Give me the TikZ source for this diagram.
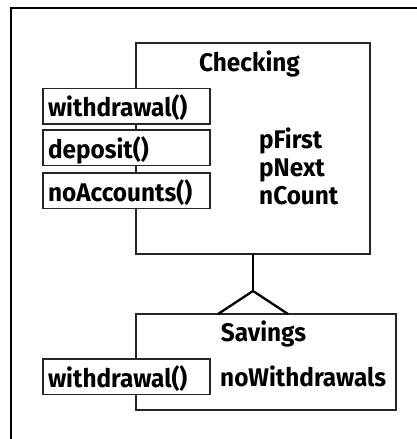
\documentclass[tikz,border=0pt]{standalone}
\usepackage{fontspec}
\newfontfamily\umlfont[FakeStretch=0.955]{Fira Sans}
\begin{document}
\begin{tikzpicture}[x=1pt,y=-1pt,
  frameline/.style={line width=2pt, black},
  classbox/.style={draw=black!85, line width=1.4pt, fill=white, inner sep=0pt, outer sep=0pt, anchor=north west},
  methodbox/.style={draw=black!85, line width=1.4pt, fill=white, anchor=north west, outer sep=0pt,
    inner xsep=5pt, inner ysep=0pt, text width=157pt, align=left,
    text height=28.3pt, text depth=7.2pt, minimum height=35.5pt,
    font=\umlfont\bfseries\fontsize{25.5}{28}\selectfont},
  lbl/.style={inner sep=0pt, font=\umlfont\bfseries\fontsize{25.5}{28}\selectfont},
  inherit/.style={line width=2.3pt, black}]
\useasboundingbox (0,0) rectangle (417,439);

% surrounding frame (open at right and bottom)
\draw[frameline] (11,439) |- (417,8);

% class Checking
\node[classbox, minimum width=234pt, minimum height=211pt] (checking) at (136,43) {};
\node[lbl, anchor=base] (checkingname) at (249.5,71.5) {Checking};
\node[methodbox] (cwithdraw) at (43,88.3) {withdrawal()};
\node[methodbox] (cdeposit) at (43,130) {deposit()};
\node[methodbox] (cnoacc) at (43,173) {noAccounts()};
\node[lbl, anchor=base west] (pfirst) at (259,148) {pFirst};
\node[lbl, anchor=base west] (pnext) at (259,176) {pNext};
\node[lbl, anchor=base west] (ncount) at (259,204) {nCount};

% class Savings
\node[classbox, minimum width=260pt, minimum height=96pt] (savings) at (136,314) {};
\node[lbl, anchor=base] (savingsname) at (263.5,341) {Savings};
\node[methodbox] (swithdraw) at (43,359) {withdrawal()};
\node[lbl, anchor=base west] (nowithdrawals) at (220,386.5) {noWithdrawals};

% inheritance connector
\coordinate (apex) at (253,291);
\coordinate (footl) at (218,314);
\coordinate (footr) at (288,314);
\draw[inherit] (checking.south) -- (apex);
\draw[inherit] (footl) -- (apex) -- (footr);
\end{tikzpicture}
\end{document}
